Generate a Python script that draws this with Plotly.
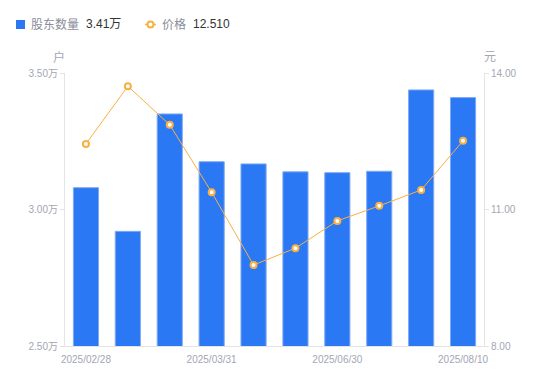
import plotly.graph_objects as go

dates = ["2025/02/28", "2025/03/10", "2025/03/20", "2025/03/31", "2025/04/30",
         "2025/05/31", "2025/06/30", "2025/07/10", "2025/07/31", "2025/08/10"]
holders_wan = [3.08, 2.92, 3.35, 3.175, 3.167, 3.138, 3.135, 3.14, 3.438, 3.41]
price = [12.44, 13.71, 12.86, 11.38, 9.78, 10.15, 10.75, 11.08, 11.43, 12.51]
left_ticks = [2.5, 3.0, 3.5]
left_tick_text = ["2.50万", "3.00万", "3.50万"]
right_ticks = [8, 11, 14]
right_tick_text = ["8.00", "11.00", "14.00"]
shown_dates = ["2025/02/28", "2025/03/31", "2025/06/30", "2025/08/10"]

BLUE = "#2a78f4"
ORANGE = "#f8b043"
GRAY = "#a3a6b4"
AXIS = "#e3e4e8"
FONT = "Liberation Sans, Noto Sans CJK SC"

# page body has an 8px default margin; compensate so the plot lands where the reference is
OFF = 8
W, H = 550, 381
# reference plot-area pixel box
RL, RR, RT, RB = 65, 484, 73, 346
ML, MT = RL - OFF, RT - OFF
MR = W - (RR - OFF)
MB = H - (RB - OFF)

fig = go.Figure()
fig.add_trace(go.Bar(
    x=dates, y=holders_wan, name="股东数量", width=0.6,
    marker=dict(color=BLUE, line=dict(color="#7fa9f5", width=1)),
    yaxis="y",
))
fig.add_trace(go.Scatter(
    x=dates, y=price, name="价格", yaxis="y2", mode="lines+markers",
    line=dict(color=ORANGE, width=1),
    marker=dict(symbol="circle", size=6, color="#ffffff", line=dict(color=ORANGE, width=2)),
))

fig.update_layout(
    width=W, height=H,
    margin=dict(l=ML, r=MR, t=MT, b=MB, autoexpand=False),
    paper_bgcolor="white", plot_bgcolor="white",
    showlegend=False,
    font=dict(family=FONT, size=10, color=GRAY),
    xaxis=dict(
        type="category", categoryorder="array", categoryarray=dates,
        tickmode="array", tickvals=shown_dates, ticktext=shown_dates,
        showline=True, linecolor=AXIS, linewidth=1, ticks="", showgrid=False,
        tickfont=dict(family=FONT, size=10, color=GRAY), ticklabelstandoff=4,
        range=[-0.5, 9.5], automargin=False,
    ),
    yaxis=dict(
        range=[2.5, 3.5], tickmode="array", tickvals=left_ticks, ticktext=left_tick_text,
        showline=True, linecolor=AXIS, linewidth=1, ticks="outside", ticklen=4,
        tickcolor=AXIS, showgrid=False, zeroline=False, automargin=False,
        tickfont=dict(family=FONT, size=10, color=GRAY),
    ),
    yaxis2=dict(
        range=[8, 14], overlaying="y", side="right",
        tickmode="array", tickvals=right_ticks, ticktext=right_tick_text,
        showline=True, linecolor=AXIS, linewidth=1, ticks="outside", ticklen=4,
        tickcolor=AXIS, showgrid=False, zeroline=False, automargin=False,
        tickfont=dict(family=FONT, size=10, color=GRAY),
    ),
)

pw = W - ML - MR
ph = H - MT - MB
def px(x):  # reference-screen x -> paper
    return (x - OFF - ML) / pw
def py(y):  # reference-screen y -> paper
    return (H - MB - (y - OFF)) / ph

# axis unit titles
fig.add_annotation(text="户", xref="paper", yref="paper", x=px(59), y=py(57),
                   showarrow=False, xanchor="center", yanchor="middle",
                   font=dict(size=12, color=GRAY))
fig.add_annotation(text="元", xref="paper", yref="paper", x=px(490), y=py(57),
                   showarrow=False, xanchor="center", yanchor="middle",
                   font=dict(size=12, color=GRAY))

# custom legend
fig.add_shape(type="rect", xref="paper", yref="paper",
              x0=px(16), x1=px(25), y0=py(29), y1=py(20),
              fillcolor=BLUE, line=dict(width=0))
fig.add_annotation(text="股东数量", xref="paper", yref="paper", x=px(29), y=py(24.5),
                   xanchor="left", yanchor="middle", showarrow=False,
                   font=dict(size=12, color="#8a8d99"))
fig.add_annotation(text=f"{holders_wan[-1]:.2f}万", xref="paper", yref="paper", x=px(84), y=py(24.5),
                   xanchor="left", yanchor="middle", showarrow=False,
                   font=dict(size=12, color="#333333"))
fig.add_shape(type="line", xref="paper", yref="paper",
              x0=px(145), x1=px(156), y0=py(24.5), y1=py(24.5),
              line=dict(color=ORANGE, width=1.5))
fig.add_shape(type="circle", xref="paper", yref="paper",
              x0=px(147.5), x1=px(153.5), y0=py(27.5), y1=py(21.5),
              fillcolor="white", line=dict(color=ORANGE, width=2))
fig.add_annotation(text="价格", xref="paper", yref="paper", x=px(160), y=py(24.5),
                   xanchor="left", yanchor="middle", showarrow=False,
                   font=dict(size=12, color="#8a8d99"))
fig.add_annotation(text=f"{price[-1]:.3f}", xref="paper", yref="paper", x=px(191), y=py(24.5),
                   xanchor="left", yanchor="middle", showarrow=False,
                   font=dict(size=12, color="#333333"))

fig.write_html("out.html")
